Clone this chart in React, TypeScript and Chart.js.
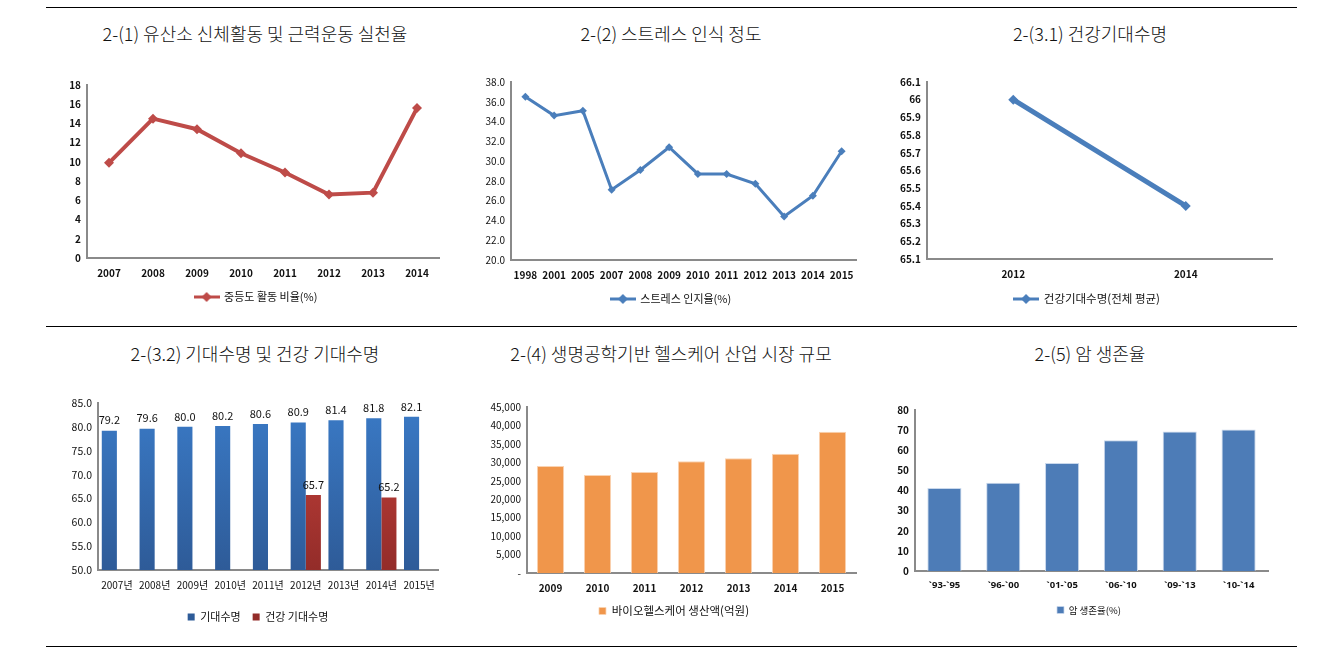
import React, { useEffect, useRef } from "react";
import { Chart, registerables } from "chart.js";

Chart.register(...registerables);

// ---------- data ----------
const activityYears = ["2007", "2008", "2009", "2010", "2011", "2012", "2013", "2014"];
const activityRate = [9.9, 14.5, 13.4, 10.9, 8.9, 6.6, 6.8, 15.6];

const stressYears = ["1998", "2001", "2005", "2007", "2008", "2009", "2010", "2011", "2012", "2013", "2014", "2015"];
const stressRate = [36.5, 34.6, 35.1, 27.1, 29.1, 31.4, 28.7, 28.7, 27.7, 24.4, 26.5, 31.0];

const healthyYears = ["2012", "2014"];
const healthyLife = [66.0, 65.4];

const lifeYears = ["2007년", "2008년", "2009년", "2010년", "2011년", "2012년", "2013년", "2014년", "2015년"];
const lifeExpectancy = [79.2, 79.6, 80.0, 80.2, 80.6, 80.9, 81.4, 81.8, 82.1];
const healthyExpectancy = [null, null, null, null, null, 65.7, null, 65.2, null];

const bioYears = ["2009", "2010", "2011", "2012", "2013", "2014", "2015"];
const bioProduction = [29000, 26600, 27400, 30300, 31100, 32300, 38300];

const cancerPeriods = ["`93-`95", "`96-`00", "`01-`05", "`06-`10", "`09-`13", "`10-`14"];
const cancerSurvival = [41.2, 43.9, 53.7, 65.0, 69.3, 70.3];

const titles = [
  "2-(1) 유산소 신체활동 및 근력운동 실천율",
  "2-(2) 스트레스 인식 정도",
  "2-(3.1) 건강기대수명",
  "2-(3.2) 기대수명 및 건강 기대수명",
  "2-(4) 생명공학기반 헬스케어 산업 시장 규모",
  "2-(5) 암 생존율",
];

const FONT = "'Noto Sans CJK KR', 'Noto Sans', sans-serif";
const LATIN = "'Noto Sans', 'DejaVu Sans', sans-serif";
const AXIS = "#8a8a8a";
const TXT = "#111";

function lineLegendIcon(color: string, w: number) {
  const c = document.createElement("canvas");
  c.width = w;
  c.height = 12;
  const ctx = c.getContext("2d")!;
  ctx.strokeStyle = color;
  ctx.lineWidth = 3;
  ctx.beginPath();
  ctx.moveTo(0, 6);
  ctx.lineTo(w, 6);
  ctx.stroke();
  ctx.fillStyle = color;
  ctx.beginPath();
  ctx.moveTo(w / 2, 1);
  ctx.lineTo(w / 2 + 5, 6);
  ctx.lineTo(w / 2, 11);
  ctx.lineTo(w / 2 - 5, 6);
  ctx.closePath();
  ctx.fill();
  return c;
}

type Box = { left: number; top: number; w: number; h: number };
type Area = { l: number; t: number; r: number; b: number; legendY: number; legendX: number; fs: number };
type TickStyle = { xSize: number; ySize: number; xWeight: any; yWeight: any; xFamily?: string };

function layoutFor(box: Box, a: Area) {
  const p = 10;
  const legendTop = a.legendY - box.top - p - a.fs / 2;
  const legendH = a.fs + p + 10;
  const pb = box.h - legendTop - legendH;
  const xH = legendTop - (a.b - box.top);
  return {
    padding: { top: a.t - box.top, right: box.left + box.w - a.r, left: 0, bottom: pb },
    yWidth: a.l - box.left,
    xHeight: xH,
  };
}

// moves the legend so that its items are centred on a given canvas x
const legendShiftPlugin = {
  id: "legendShift",
  afterLayout(chart: any, _args: any, opts: any) {
    const lg = chart.legend;
    if (!lg || !opts || opts.cx === undefined) return;
    const dx = opts.cx - (lg.left + lg.right) / 2;
    lg.left += dx;
    lg.right += dx;
  },
};

function scalesFor(L: any, yOpts: any, ts: TickStyle, yFmt: (v: number) => string, xPad: number) {
  return {
    x: {
      offset: true,
      grid: { display: false, drawTicks: false },
      border: { display: true, color: AXIS, width: 2 },
      ticks: {
        color: TXT,
        font: { family: ts.xFamily || FONT, size: ts.xSize, weight: ts.xWeight },
        padding: xPad,
        maxRotation: 0,
        autoSkip: false,
      },
      afterFit: (s: any) => {
        s.height = L.xHeight;
      },
    },
    y: {
      ...yOpts,
      grid: { display: false, drawTicks: false },
      border: { display: true, color: AXIS, width: 2 },
      ticks: {
        color: TXT,
        font: { family: FONT, size: ts.ySize, weight: ts.yWeight },
        padding: 6,
        stepSize: yOpts.stepSize,
        callback: (v: any) => yFmt(Number(v)),
      },
      afterFit: (s: any) => {
        s.width = L.yWidth;
      },
    },
  };
}

const barLabelPlugin = {
  id: "barLabels",
  afterDatasetsDraw(chart: any, _args: any, opts: any) {
    if (!opts || !opts.enabled) return;
    const ctx = chart.ctx;
    ctx.save();
    ctx.font = `${opts.size}px ${FONT}`;
    ctx.fillStyle = TXT;
    ctx.textAlign = "center";
    ctx.textBaseline = "bottom";
    chart.data.datasets.forEach((ds: any, i: number) => {
      const meta = chart.getDatasetMeta(i);
      meta.data.forEach((el: any, j: number) => {
        const v = ds.data[j];
        if (v === null || v === undefined) return;
        ctx.fillText(Number(v).toFixed(1), el.x, el.y - 5);
      });
    });
    ctx.restore();
  },
};

function ChartBox({ box, make }: { box: Box; make: (c: HTMLCanvasElement) => Chart }) {
  const ref = useRef<HTMLCanvasElement>(null);
  useEffect(() => {
    const ch = make(ref.current!);
    return () => ch.destroy();
  }, []);
  return (
    <div style={{ position: "absolute", left: box.left, top: box.top, width: box.w, height: box.h }}>
      <canvas ref={ref} width={box.w} height={box.h} style={{ width: box.w, height: box.h }} />
    </div>
  );
}

function legendOpts(fs: number, extra: any = {}) {
  return {
    display: true,
    position: "bottom" as const,
    labels: {
      color: TXT,
      font: { family: FONT, size: fs },
      padding: 10,
      ...extra,
    },
  };
}

function lineChart(
  canvas: HTMLCanvasElement,
  box: Box,
  area: Area,
  labels: string[],
  data: number[],
  name: string,
  color: string,
  lw: number,
  pr: number,
  yOpts: any,
  yFmt: (v: number) => string,
  ts: TickStyle,
  xPad: number
) {
  const L = layoutFor(box, area);
  return new Chart(canvas, {
    type: "line",
    data: {
      labels,
      datasets: [
        {
          label: name,
          data,
          borderColor: color,
          backgroundColor: color,
          borderWidth: lw,
          pointStyle: "rectRot",
          pointRadius: pr,
          pointBorderWidth: 0,
          pointBackgroundColor: color,
          tension: 0,
        },
      ],
    },
    options: {
      responsive: false,
      animation: false,
      layout: { padding: L.padding },
      plugins: {
        legend: legendOpts(area.fs, { usePointStyle: true, pointStyle: lineLegendIcon(color, 26), pointStyleWidth: 24 }),
        tooltip: { enabled: false },
        legendShift: { cx: area.legendX - box.left },
      } as any,
      scales: scalesFor(L, yOpts, ts, yFmt, xPad) as any,
    },
    plugins: [legendShiftPlugin],
  });
}

function barChart(
  canvas: HTMLCanvasElement,
  box: Box,
  area: Area,
  labels: string[],
  datasets: any[],
  yOpts: any,
  yFmt: (v: number) => string,
  ts: TickStyle,
  xPad: number,
  extraPlugins: any = {}
) {
  const L = layoutFor(box, area);
  return new Chart(canvas, {
    type: "bar",
    data: { labels, datasets },
    options: {
      responsive: false,
      animation: false,
      layout: { padding: L.padding },
      plugins: {
        legend: legendOpts(area.fs, { boxWidth: 7, boxHeight: 7, padding: 12 }),
        tooltip: { enabled: false },
        legendShift: { cx: area.legendX - box.left },
        ...extraPlugins,
      } as any,
      scales: scalesFor(L, yOpts, ts, yFmt, xPad) as any,
    },
    plugins: [barLabelPlugin, legendShiftPlugin],
  });
}

function vGradient(top: string, bottom: string) {
  return (ctx: any) => {
    const chart = ctx.chart;
    const a = chart.chartArea;
    if (!a) return top;
    const g = chart.ctx.createLinearGradient(0, a.top, 0, a.bottom);
    g.addColorStop(0, top);
    g.addColorStop(1, bottom);
    return g;
  };
}

const boxes: Box[] = [
  { left: 40, top: 60, w: 420, h: 260 },
  { left: 460, top: 60, w: 420, h: 260 },
  { left: 880, top: 60, w: 420, h: 260 },
  { left: 40, top: 385, w: 420, h: 255 },
  { left: 460, top: 385, w: 420, h: 255 },
  { left: 880, top: 385, w: 420, h: 255 },
];

const areas: Area[] = [
  { l: 87, t: 85, r: 439, b: 258, legendY: 297, legendX: 256, fs: 11 },
  { l: 511, t: 82, r: 856, b: 260, legendY: 299, legendX: 671, fs: 11 },
  { l: 927, t: 82, r: 1272, b: 259, legendY: 299, legendX: 1087, fs: 11.5 },
  { l: 98, t: 403, r: 438, b: 572, legendY: 617, legendX: 258, fs: 11 },
  { l: 527, t: 407, r: 856, b: 575, legendY: 611, legendX: 674, fs: 11.5 },
  { l: 915, t: 410, r: 1268, b: 573, legendY: 610, legendX: 1089, fs: 9.5 },
];

export default function App() {
  return (
    <div style={{ position: "absolute", left: 0, top: 0, width: 1344, height: 661, background: "#fff", fontFamily: FONT }}>
      {[7, 326, 646].map((y) => (
        <div key={y} style={{ position: "absolute", left: 46, width: 1251, top: y, height: 1, background: "#000" }} />
      ))}
      {titles.map((t, i) => {
        const cx = [255, 671, 1090][i % 3];
        const ty = i < 3 ? 33 : 353;
        return (
          <div
            key={t}
            style={{
              position: "absolute",
              left: cx - 250,
              width: 500,
              top: ty - 13,
              height: 26,
              lineHeight: "26px",
              textAlign: "center",
              fontSize: 18,
              fontWeight: 300,
              color: "#111",
              whiteSpace: "nowrap",
            }}
          >
            {t}
          </div>
        );
      })}
      <ChartBox
        box={boxes[0]}
        make={(c) =>
          lineChart(c, boxes[0], areas[0], activityYears, activityRate, "중등도 활동 비율(%)", "#BE4B48", 4, 5,
            { min: 0, max: 18, stepSize: 2 }, (v) => String(v),
            { xSize: 10, ySize: 10, xWeight: "bold", yWeight: "bold" }, 9)
        }
      />
      <ChartBox
        box={boxes[1]}
        make={(c) =>
          lineChart(c, boxes[1], areas[1], stressYears, stressRate, "스트레스 인지율(%)", "#4A7EBB", 3, 4,
            { min: 20, max: 38, stepSize: 2 }, (v) => v.toFixed(1),
            { xSize: 10, ySize: 10, xWeight: "bold", yWeight: "normal" }, 9)
        }
      />
      <ChartBox
        box={boxes[2]}
        make={(c) =>
          lineChart(c, boxes[2], areas[2], healthyYears, healthyLife, "건강기대수명(전체 평균)", "#4A7EBB", 5, 5,
            { min: 65.1, max: 66.1, stepSize: 0.1 }, (v) => String(Number(v.toFixed(1))),
            { xSize: 10, ySize: 10, xWeight: "bold", yWeight: "bold" }, 9)
        }
      />
      <ChartBox
        box={boxes[3]}
        make={(c) =>
          barChart(
            c, boxes[3], areas[3], lifeYears,
            [
              {
                label: "기대수명",
                data: lifeExpectancy,
                backgroundColor: vGradient("#3A7AC6", "#2E5B98"),
                categoryPercentage: 0.8,
                barPercentage: 1.0,
              },
              {
                label: "건강 기대수명",
                data: healthyExpectancy,
                backgroundColor: vGradient("#C8433D", "#932C29"),
                categoryPercentage: 0.8,
                barPercentage: 1.0,
              },
            ],
            { min: 50, max: 85, stepSize: 5 }, (v) => v.toFixed(1),
            { xSize: 10, ySize: 10.5, xWeight: "normal", yWeight: "normal" }, 9,
            { barLabels: { enabled: true, size: 11 } }
          )
        }
      />
      <ChartBox
        box={boxes[4]}
        make={(c) =>
          barChart(
            c, boxes[4], areas[4], bioYears,
            [
              {
                label: "바이오헬스케어 생산액(억원)",
                data: bioProduction,
                backgroundColor: "#F0964B",
                borderColor: "#FAD3B2",
                borderWidth: { top: 1, left: 1, right: 1, bottom: 0 },
                categoryPercentage: 0.58,
                barPercentage: 1.0,
              },
            ],
            { min: 0, max: 45000, stepSize: 5000 }, (v) => (v === 0 ? "-" : v.toLocaleString("en-US")),
            { xSize: 10, ySize: 10, xWeight: "bold", yWeight: "normal" }, 9
          )
        }
      />
      <ChartBox
        box={boxes[5]}
        make={(c) =>
          barChart(
            c, boxes[5], areas[5], cancerPeriods,
            [
              {
                label: "암 생존율(%)",
                data: cancerSurvival,
                backgroundColor: "#4D7CB7",
                borderColor: "#C9D8EC",
                borderWidth: { top: 1, left: 1, right: 1, bottom: 0 },
                categoryPercentage: 0.58,
                barPercentage: 1.0,
              },
            ],
            { min: 0, max: 80, stepSize: 10 }, (v) => String(v),
            { xSize: 9.5, ySize: 10, xWeight: "bold", yWeight: "bold", xFamily: LATIN }, 9
          )
        }
      />
    </div>
  );
}
